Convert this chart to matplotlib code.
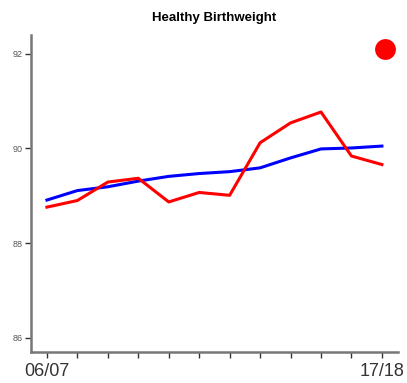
import matplotlib
matplotlib.use('Agg')
import matplotlib.pyplot as plt
import numpy as np

years = ['06/07', '07/08', '08/09', '09/10', '10/11', '11/12',
         '12/13', '13/14', '14/15', '15/16', '16/17', '17/18']
local = [88.76, 88.90, 89.29, 89.37, 88.87, 89.07,
         89.01, 90.12, 90.54, 90.77, 89.84, 89.66]
national = [88.91, 89.11, 89.19, 89.31, 89.41, 89.47,
            89.51, 89.59, 89.80, 89.99, 90.01, 90.05]
yticks = [86, 88, 90, 92]
dot_pos = (11.1, 92.1)

plt.rcParams['font.family'] = ['Liberation Sans', 'DejaVu Sans']

fig = plt.figure(figsize=(4.07, 3.83), dpi=100)
ax = fig.add_axes([0.076, 0.081, 0.902, 0.828])

x = np.arange(len(years))
ax.plot(x, local, color='#ff0000', lw=2.2, zorder=3)
ax.plot(x, national, color='#0000ff', lw=2.2, zorder=2)
ax.plot(*dot_pos, 'o', color='#ff0000', ms=15, mec='none', clip_on=False)

ax.set_xlim(-0.525, 11.53)
ax.set_ylim(85.7, 92.4)
ax.set_yticks(yticks)
ax.set_yticklabels([str(v) for v in yticks], fontsize=6.5, color='#555555')
ax.set_xticks(x)
ax.set_xticklabels([years[0]] + [''] * (len(years) - 2) + [years[-1]],
                   fontsize=13, color='#333333')

for s in ['top', 'right']:
    ax.spines[s].set_visible(False)
for s in ['left', 'bottom']:
    ax.spines[s].set_color('#777777')
    ax.spines[s].set_linewidth(1.8)
ax.tick_params(axis='both', length=4, width=1, color='#333333', pad=2)
ax.tick_params(axis='x', pad=4)

ax.set_title('Healthy Birthweight', fontsize=9.5, fontweight='bold', pad=10)

fig.savefig('out.png', dpi=100)
